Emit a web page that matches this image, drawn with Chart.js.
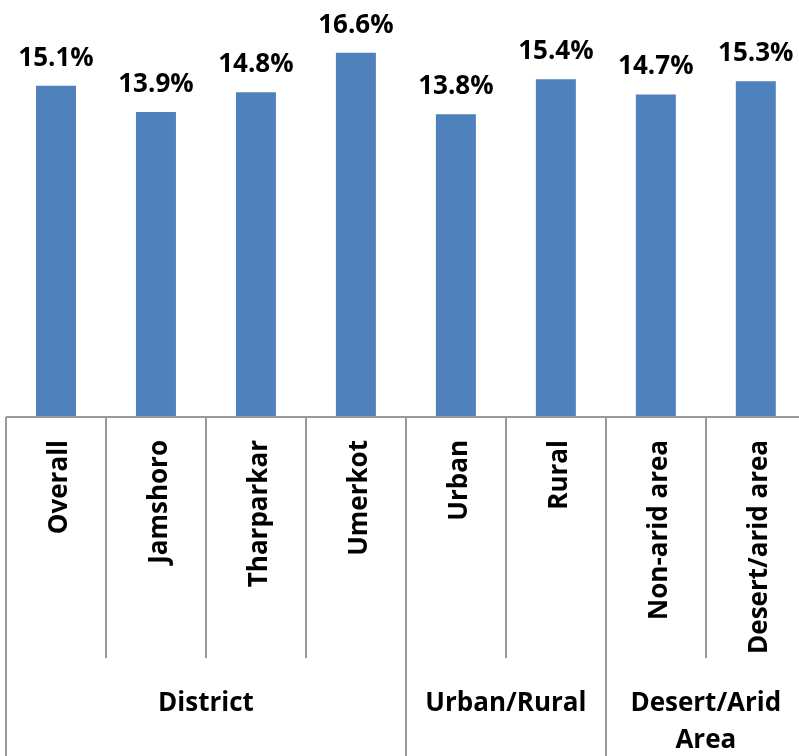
<!DOCTYPE html>
<html>
<head>
<meta charset="utf-8">
<script src="https://cdn.jsdelivr.net/npm/chart.js@4/dist/chart.umd.min.js"></script>
<style>
  html, body { margin: 0; padding: 0; background: #fff; overflow: hidden; width: 799px; height: 756px; }
  #wrap { width: 810px; height: 756px; }
</style>
</head>
<body>
<div id="wrap"><canvas id="c" width="810" height="756"></canvas></div>
<script>
const categories = ['Overall', 'Jamshoro', 'Tharparkar', 'Umerkot', 'Urban', 'Rural', 'Non-arid area', 'Desert/arid area'];
const values = [15.1, 13.9, 14.8, 16.6, 13.8, 15.4, 14.7, 15.3];
const groupLabels = ['District', 'Urban/Rural', 'Desert/Arid Area'];
const groupSpans = [4, 2, 2];

const FONT = "bold 26px 'Open Sans', 'DejaVu Sans', sans-serif";
const LINE = '#9a9a9a';
const AXIS_Y = 417;
const CAT_BOTTOM = 658;
const GROUP_BOTTOM = 756;

const boxPlugin = {
  id: 'boxPlugin',
  afterDraw(chart) {
    const ctx = chart.ctx;
    const xs = chart.scales.x;
    const n = categories.length;
    const left = xs.getPixelForValue(0) - (xs.getPixelForValue(1) - xs.getPixelForValue(0)) / 2;
    const step = xs.getPixelForValue(1) - xs.getPixelForValue(0);
    ctx.save();
    // axis line
    ctx.strokeStyle = LINE;
    ctx.lineWidth = 2;
    ctx.beginPath();
    ctx.moveTo(left, AXIS_Y);
    ctx.lineTo(left + n * step, AXIS_Y);
    ctx.stroke();
    // group boundaries
    const groupEdges = new Set([0]);
    let acc = 0;
    groupSpans.forEach(s => { acc += s; groupEdges.add(acc); });
    for (let i = 0; i <= n; i++) {
      const x = Math.round(left + i * step);
      ctx.beginPath();
      ctx.moveTo(x, AXIS_Y);
      ctx.lineTo(x, groupEdges.has(i) ? GROUP_BOTTOM : CAT_BOTTOM);
      ctx.stroke();
    }
    // category labels (rotated)
    ctx.fillStyle = '#000';
    ctx.font = FONT;
    ctx.textBaseline = 'alphabetic';
    ctx.textAlign = 'right';
    categories.forEach((c, i) => {
      const cx = xs.getPixelForValue(i);
      ctx.save();
      ctx.translate(cx, 440);
      ctx.rotate(-Math.PI / 2);
      ctx.fillText(c, 0, 11);
      ctx.restore();
    });
    // group labels
    ctx.textAlign = 'center';
    let start = 0;
    groupLabels.forEach((g, gi) => {
      const span = groupSpans[gi];
      const gx = left + (start + span / 2) * step;
      const maxW = span * step - 14;
      const words = g.split(' ');
      const lines = [];
      let cur = '';
      words.forEach(w => {
        const t = cur ? cur + ' ' + w : w;
        if (ctx.measureText(t).width > maxW && cur) { lines.push(cur); cur = w; }
        else cur = t;
      });
      if (cur) lines.push(cur);
      lines.forEach((l, li) => ctx.fillText(l, gx, 711 + li * 37));
      start += span;
    });
    // data labels
    const meta = chart.getDatasetMeta(0);
    meta.data.forEach((bar, i) => {
      ctx.fillText(values[i].toFixed(1) + '%', bar.x, bar.y - 20);
    });
    ctx.restore();
  }
};

new Chart(document.getElementById('c'), {
  type: 'bar',
  data: {
    labels: categories,
    datasets: [{
      data: values,
      backgroundColor: '#4f81bd',
      borderWidth: 0,
      categoryPercentage: 1.0,
      barPercentage: 0.4
    }]
  },
  options: {
    responsive: false,
    animation: false,
    devicePixelRatio: 1,
    layout: { padding: { left: 6, right: 4.2, top: 22.1, bottom: 339 } },
    plugins: { legend: { display: false }, tooltip: { enabled: false } },
    scales: {
      x: { display: false, offset: true },
      y: { display: false, min: 0, max: 18 }
    }
  },
  plugins: [boxPlugin]
});
</script>
</body>
</html>
